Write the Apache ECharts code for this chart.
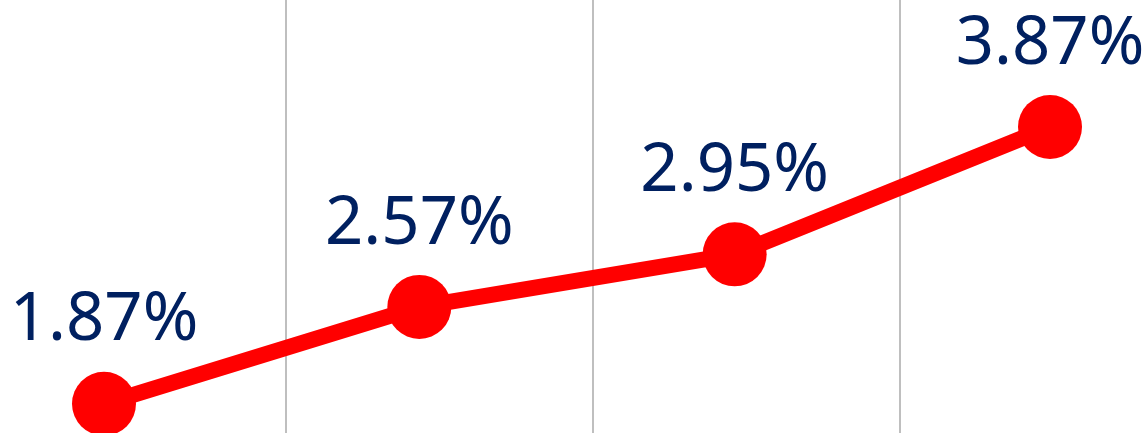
<!DOCTYPE html>
<html>
<head>
<meta charset="utf-8">
<script src="https://cdn.jsdelivr.net/npm/echarts@6/dist/echarts.min.js"></script>
<style>
  html, body { margin: 0; padding: 0; background: #fff; }
  #chart { width: 1148px; height: 433px; }
</style>
</head>
<body>
<div id="chart"></div>
<script>
var categories = ['P1', 'P2', 'P3', 'P4'];
var rates = [1.87, 2.57, 2.95, 3.87];

var myChart = echarts.init(document.getElementById('chart'), null, { renderer: 'canvas' });

var option = {
  animation: false,
  grid: [
    // grid used only for the vertical separators
    { left: -21, width: 1228, top: 0, bottom: 0, outerBoundsMode: 'none' },
    // grid for the line itself
    { left: 104, right: 98, top: 109, bottom: -22, outerBoundsMode: 'none' }
  ],
  xAxis: [
    {
      gridIndex: 0, type: 'category', data: categories, boundaryGap: true,
      axisLine: { show: false }, axisTick: { show: false }, axisLabel: { show: false },
      splitLine: { show: true, lineStyle: { color: '#bfbfbf', width: 2 } }
    },
    {
      gridIndex: 1, type: 'category', data: categories, boundaryGap: false,
      axisLine: { show: false }, axisTick: { show: false }, axisLabel: { show: false },
      splitLine: { show: false }
    }
  ],
  yAxis: [
    { gridIndex: 0, type: 'value', show: false },
    { gridIndex: 1, type: 'value', min: 1.5, max: 4, show: false }
  ],
  series: [{
    type: 'line',
    xAxisIndex: 1,
    yAxisIndex: 1,
    data: rates,
    symbol: 'circle',
    symbolSize: 64,
    lineStyle: { color: '#ff0000', width: 16 },
    itemStyle: { color: '#ff0000' },
    label: {
      show: true,
      position: 'top',
      distance: 17,
      color: '#002060',
      fontFamily: 'Noto Sans',
      fontSize: 67,
      formatter: function (p) { return p.value.toFixed(2) + '%'; }
    }
  }]
};

myChart.setOption(option);
window.addEventListener('resize', myChart.resize);
</script>
</body>
</html>
